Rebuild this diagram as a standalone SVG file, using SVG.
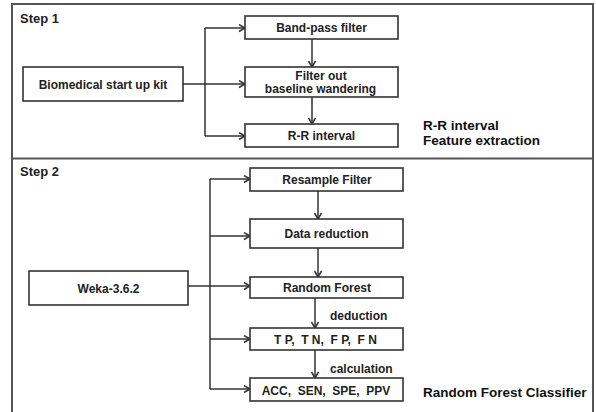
<svg xmlns="http://www.w3.org/2000/svg" width="596" height="412" viewBox="0 0 596 412">
<style>
  .frame { fill: none; stroke: #555; stroke-width: 2; }
  .box { fill: #fff; stroke: #333; stroke-width: 1.6; }
  .ln { fill: none; stroke: #333; stroke-width: 1.5; }
  .t { font-family: "Liberation Sans", Arial, sans-serif; font-weight: bold; font-size: 12px; fill: #222; text-anchor: middle; }
  .lbl { font-family: "Liberation Sans", Arial, sans-serif; font-weight: bold; font-size: 12px; fill: #222; }
  .step { font-family: "Liberation Sans", Arial, sans-serif; font-weight: bold; font-size: 13px; fill: #222; }
  .big { font-family: "Liberation Sans", Arial, sans-serif; font-weight: bold; font-size: 13.5px; fill: #111; }
  .pre { white-space: pre; }
</style>
<defs>
  <marker id="arr" markerWidth="8" markerHeight="10" refX="7" refY="4" orient="auto" markerUnits="userSpaceOnUse">
    <path d="M1,0.5 L7,4 L1,7.5" fill="none" stroke="#333" stroke-width="1.5"/>
  </marker>
</defs>
<rect width="596" height="412" fill="#fff"/>
<g id="frames">
  <path class="frame" d="M12,420 L12,4 L593,4 L593,420"/>
  <line class="frame" x1="12" y1="158.5" x2="593" y2="158.5"/>
</g>
<text class="step" x="20" y="23">Step 1</text>
<text class="step" x="20" y="176">Step 2</text>
<g id="connectors">
  <!-- step 1 -->
  <path class="ln" d="M183,84 L205,84"/>
  <path class="ln" d="M205,28 L205,136"/>
  <path class="ln" d="M205,28 L245,28" marker-end="url(#arr)"/>
  <path class="ln" d="M205,84 L245,84" marker-end="url(#arr)"/>
  <path class="ln" d="M205,136 L245,136" marker-end="url(#arr)"/>
  <path class="ln" d="M312,39 L312,67" marker-end="url(#arr)"/>
  <path class="ln" d="M312,97 L312,124" marker-end="url(#arr)"/>
  <!-- step 2 -->
  <path class="ln" d="M188,286 L210,286"/>
  <path class="ln" d="M210,179 L210,389"/>
  <path class="ln" d="M210,179 L250,179" marker-end="url(#arr)"/>
  <path class="ln" d="M210,236 L250,236" marker-end="url(#arr)"/>
  <path class="ln" d="M210,286 L250,286" marker-end="url(#arr)"/>
  <path class="ln" d="M210,339 L250,339" marker-end="url(#arr)"/>
  <path class="ln" d="M210,389 L250,389" marker-end="url(#arr)"/>
  <path class="ln" d="M318,191 L318,219" marker-end="url(#arr)"/>
  <path class="ln" d="M318,248 L318,277" marker-end="url(#arr)"/>
  <path class="ln" d="M315,298 L315,328" marker-end="url(#arr)"/>
  <path class="ln" d="M315,350 L315,378" marker-end="url(#arr)"/>
</g>
<g id="biomedical">
  <rect class="box" x="23" y="67" width="160" height="34"/>
  <text class="t" x="103" y="88.5">Biomedical start up kit</text>
</g>
<g id="bandpass">
  <rect class="box" x="245" y="16" width="153" height="23"/>
  <text class="t" x="321.5" y="31.5">Band-pass filter</text>
</g>
<g id="filterout">
  <rect class="box" x="245" y="67" width="153" height="30"/>
  <text class="t" x="321" y="80">Filter out</text>
  <text class="t" x="320.5" y="92.5">baseline wandering</text>
</g>
<g id="rrinterval">
  <rect class="box" x="245" y="124" width="153" height="23"/>
  <text class="t" x="321.5" y="140">R-R interval</text>
</g>
<g id="label1">
  <text class="big" x="423" y="130">R-R interval</text>
  <text class="big" x="423" y="145">Feature extraction</text>
</g>
<g id="weka">
  <rect class="box" x="29" y="271" width="159" height="34"/>
  <text class="t" x="108.5" y="292.5">Weka-3.6.2</text>
</g>
<g id="resample">
  <rect class="box" x="250" y="168" width="153" height="23"/>
  <text class="t" x="327" y="183.5">Resample Filter</text>
</g>
<g id="datareduction">
  <rect class="box" x="250" y="219" width="153" height="29"/>
  <text class="t" x="326.5" y="238">Data reduction</text>
</g>
<g id="randomforest">
  <rect class="box" x="250" y="277" width="153" height="21"/>
  <text class="t" x="327" y="291.5">Random Forest</text>
</g>
<g id="tptn">
  <rect class="box" x="250" y="328" width="153" height="22"/>
  <text class="t pre" x="325.5" y="344">T P,  T N,  F P,  F N</text>
</g>
<g id="acc">
  <rect class="box" x="250" y="378" width="153" height="23"/>
  <text class="t pre" x="326" y="395">ACC,  SEN,  SPE,  PPV</text>
</g>
<text class="lbl" x="330" y="320">deduction</text>
<text class="lbl" x="330" y="372.5">calculation</text>
<g id="label2">
  <text class="big" x="423" y="397">Random Forest Classifier</text>
</g>
</svg>
